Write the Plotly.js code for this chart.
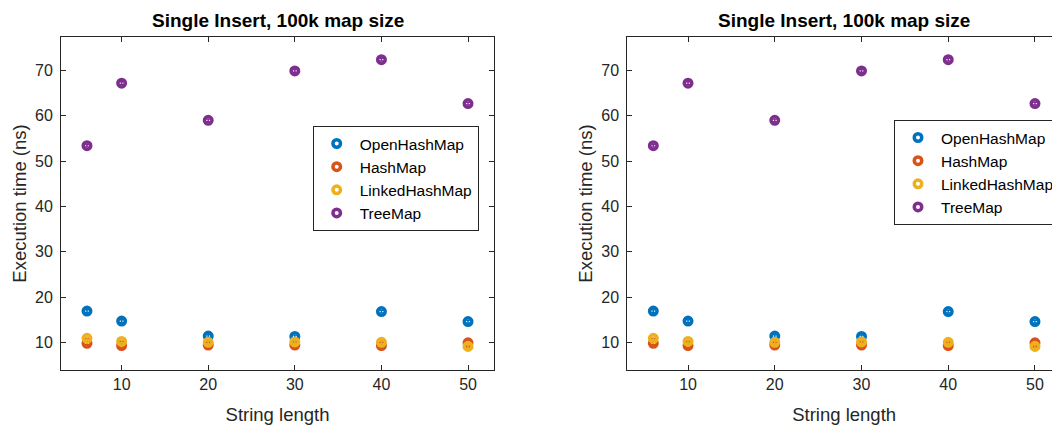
<!DOCTYPE html>
<html>
<head>
<meta charset="utf-8">
<script src="https://cdn.plot.ly/plotly-3.0.1.min.js"></script>
<style>
html,body{margin:0;padding:0;overflow:hidden;background:#fff;}
#chart{width:1100px;height:425px;}
</style>
</head>
<body>
<div id="chart"></div>
<script>
// ---- data ----
var stringLength = [6, 10, 20, 30, 40, 50];
var openHashMap = [16.9, 14.7, 11.4, 11.3, 16.8, 14.6];
var openHashMapErr = [0.3, 0.3, 0.3, 0.3, 0.3, 0.3];
var hashMap = [9.8, 9.3, 9.4, 9.4, 9.3, 9.9];
var hashMapErr = [0.3, 0.3, 0.3, 0.3, 0.3, 0.8];
var linkedHashMap = [10.9, 10.2, 10.0, 10.1, 10.0, 9.1];
var linkedHashMapErr = [0.3, 0.3, 0.3, 0.3, 0.3, 0.4];
var treeMap = [53.4, 67.2, 59.0, 69.9, 72.4, 62.7];
var treeMapErr = [0.3, 0.3, 0.3, 0.3, 0.3, 0.3];
var seriesNames = ['OpenHashMap', 'HashMap', 'LinkedHashMap', 'TreeMap'];
var xTicks = [10, 20, 30, 40, 50];
var yTicks = [10, 20, 30, 40, 50, 60, 70];
var chartTitle = 'Single Insert, 100k map size';
var xLabel = 'String length';
var yLabel = 'Execution time (ns)';

var colors = ['#0072BD', '#D95319', '#EDB120', '#7E2F8E'];
var values = [openHashMap, hashMap, linkedHashMap, treeMap];
var errs = [openHashMapErr, hashMapErr, linkedHashMapErr, treeMapErr];

var FONT = 'Liberation Sans, Arial, Helvetica, sans-serif';
var AX = '#262626';

var traces = [];
[1, 2].forEach(function (p) {
  for (var i = 0; i < 4; i++) {
    traces.push({
      type: 'scatter',
      mode: 'markers',
      x: stringLength,
      y: values[i],
      name: seriesNames[i],
      xaxis: p === 1 ? 'x' : 'x2',
      yaxis: p === 1 ? 'y' : 'y2',
      legend: p === 1 ? 'legend' : 'legend2',
      marker: {symbol: 'circle-open', size: 7.5, color: colors[i], line: {width: 3.5, color: colors[i]}},
      error_y: {type: 'data', array: errs[i], visible: true, color: colors[i], thickness: 1.5, width: 3}
    });
  }
});

function xax(domain) {
  return {
    domain: domain, range: [3, 53], tickvals: xTicks, ticks: 'inside', ticklen: 5, tickcolor: AX,
    mirror: 'ticks', showline: true, linecolor: AX, linewidth: 1, showgrid: false, zeroline: false,
    tickfont: {family: FONT, size: 16, color: AX},
    title: {text: xLabel, font: {family: FONT, size: 18.5, color: AX}, standoff: 15}
  };
}
function yax(anchor) {
  return {
    domain: [0, 1], range: [3.9, 77.4], tickvals: yTicks, ticks: 'inside', ticklen: 5, tickcolor: AX,
    mirror: 'ticks', showline: true, linecolor: AX, linewidth: 1, showgrid: false, zeroline: false,
    anchor: anchor, ticklabelstandoff: 4,
    tickfont: {family: FONT, size: 16, color: AX},
    title: {text: yLabel, font: {family: FONT, size: 18.5, color: AX}, standoff: 3}
  };
}

var legendBase = {
  xanchor: 'left', yanchor: 'top', bgcolor: '#ffffff', bordercolor: AX, borderwidth: 1,
  itemwidth: 36,
  font: {family: FONT, size: 15.5, color: '#000'}
};

var layout = {
  width: 1100, height: 425,
  margin: {l: 61, r: 39, t: 37, b: 55},
  paper_bgcolor: '#fff', plot_bgcolor: '#fff',
  showlegend: true,
  xaxis: xax([0, 0.433]),
  yaxis: yax('x'),
  xaxis2: xax([0.5663, 1]),
  yaxis2: yax('x2'),
  legend: Object.assign({x: 0.2517, y: 0.733}, legendBase),
  legend2: Object.assign({x: 0.833, y: 0.751}, legendBase),
  annotations: [
    {text: '<b>' + chartTitle + '</b>', xref: 'paper', yref: 'paper', x: 0.2165, y: 1.049, xanchor: 'center', yanchor: 'middle', showarrow: false, font: {family: FONT, size: 19, color: '#000'}},
    {text: '<b>' + chartTitle + '</b>', xref: 'paper', yref: 'paper', x: 0.783, y: 1.049, xanchor: 'center', yanchor: 'middle', showarrow: false, font: {family: FONT, size: 19, color: '#000'}}
  ]
};

Plotly.newPlot('chart', traces, layout, {displayModeBar: false, staticPlot: true});
</script>
</body>
</html>
